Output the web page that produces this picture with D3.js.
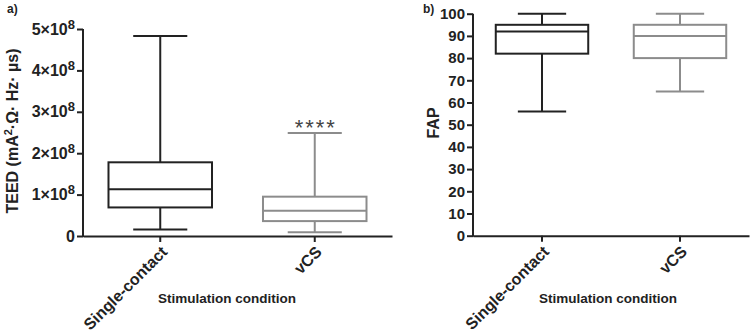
<!DOCTYPE html>
<html>
<head>
<meta charset="utf-8">
<script src="https://cdn.jsdelivr.net/npm/d3@7"></script>
<style>
  body { margin: 0; background: #fff; }
  svg { font-family: "Liberation Sans", Arial, sans-serif; font-weight: bold; }
</style>
</head>
<body>
<svg id="chart" width="750" height="336"></svg>
<script>
// box summaries
const conditions = ["Single-contact", "vCS"];
const colors = ["#222222", "#8c8c8c"];

// a) TEED, units of 1e8
const teedMin = [0.16, 0.09];
const teedQ1 = [0.69, 0.36];
const teedMed = [1.13, 0.61];
const teedQ3 = [1.78, 0.95];
const teedMax = [4.83, 2.49];
const teedTicks = [0, 1, 2, 3, 4, 5];

// b) FAP
const fapMin = [56, 65];
const fapQ1 = [82, 80];
const fapMed = [92, 90];
const fapQ3 = [95, 95];
const fapMax = [100, 100];
const fapTicks = d3.range(0, 101, 10);

const svg = d3.select("#chart");

function panel(opts) {
  const g = svg.append("g");
  const x = d3.scaleBand().domain(conditions).range(opts.xRange);
  const y = d3.scaleLinear().domain(opts.yDomain).range(opts.yRange);
  const step = x.step();
  const boxW = step * 0.67, capW = step * 0.35;

  const rows = conditions.map((c, i) => ({
    c, col: colors[i],
    min: opts.min[i], q1: opts.q1[i], med: opts.med[i], q3: opts.q3[i], max: opts.max[i]
  }));

  const b = g.selectAll("g.box").data(rows).join("g")
    .attr("transform", d => `translate(${x(d.c) + step / 2},0)`)
    .attr("stroke", d => d.col).attr("stroke-width", 2).attr("fill", "none");
  b.append("line").attr("y1", d => y(d.max)).attr("y2", d => y(d.q3));
  b.append("line").attr("y1", d => y(d.q1)).attr("y2", d => y(d.min));
  b.append("line").attr("x1", -capW / 2).attr("x2", capW / 2).attr("y1", d => y(d.max)).attr("y2", d => y(d.max));
  b.append("line").attr("x1", -capW / 2).attr("x2", capW / 2).attr("y1", d => y(d.min)).attr("y2", d => y(d.min));
  b.append("rect").attr("x", -boxW / 2).attr("width", boxW)
    .attr("y", d => y(d.q3)).attr("height", d => y(d.q1) - y(d.q3));
  b.append("line").attr("x1", -boxW / 2).attr("x2", boxW / 2).attr("y1", d => y(d.med)).attr("y2", d => y(d.med));

  // y axis
  const ya = g.append("g").attr("transform", `translate(${opts.xRange[0]},0)`)
    .call(d3.axisLeft(y).tickValues(opts.ticks).tickSize(6).tickPadding(2).tickFormat(opts.fmt || d3.format("d")));
  ya.select(".domain").attr("stroke", "#222").attr("stroke-width", 2).attr("d", `M0,${opts.yRange[0] + 1}V${opts.yRange[1]}`);
  ya.selectAll(".tick line").attr("stroke", "#222").attr("stroke-width", 2);
  ya.selectAll(".tick text").attr("fill", "#222").attr("font-size", opts.tickFs).attr("font-weight", "bold")
    .attr("font-family", "Liberation Sans, Arial, sans-serif");

  // x axis
  const xa = g.append("g").attr("transform", `translate(0,${opts.yRange[0]})`)
    .call(d3.axisBottom(x).tickSize(6).tickSizeOuter(0).tickFormat(""));
  xa.select(".domain").attr("stroke", "#222").attr("stroke-width", 2);
  xa.selectAll(".tick line").attr("stroke", "#222").attr("stroke-width", 2);
  g.selectAll("text.xl").data(conditions).join("text").attr("class", "xl")
    .attr("transform", d => `translate(${x(d) + step / 2 + 8},${opts.yRange[0] + 17}) rotate(-45)`)
    .attr("text-anchor", "end").attr("font-size", 16).attr("fill", "#222").text(d => d);

  g.append("text").attr("x", opts.xTitleX).attr("y", 303).attr("text-anchor", "middle")
    .attr("font-size", 13.5).attr("fill", "#222").text("Stimulation condition");
  return { g, x, y, ya, step };
}

const pa = panel({
  xRange: [83, 392], yDomain: [0, 5], yRange: [236, 29],
  min: teedMin, q1: teedQ1, med: teedMed, q3: teedQ3, max: teedMax,
  ticks: teedTicks, tickFs: 16, xTitleX: 227, fmt: d => d === 0 ? "0" : d + "\u00d710"
});
// superscript exponent on the TEED ticks
pa.ya.selectAll(".tick text").filter(d => d !== 0)
  .append("tspan").attr("dy", -6).attr("font-size", 13).text("8");

// significance stars above vCS
pa.g.append("text").attr("x", pa.x("vCS") + pa.step / 2 + 1).attr("y", pa.y(teedMax[1]) + 2)
  .attr("text-anchor", "middle").attr("font-size", 22).attr("font-weight", "normal")
  .attr("fill", "#444").attr("letter-spacing", 2).text("****");

pa.g.append("text").attr("transform", "translate(18,131) rotate(-90)").attr("text-anchor", "middle")
  .attr("font-size", 16).attr("fill", "#222")
  .html('TEED (mA<tspan dy="-6" font-size="11">2</tspan><tspan dy="6">·Ω· Hz· µs)</tspan>');
pa.g.append("text").attr("x", 7).attr("y", 13).attr("font-size", 12).attr("fill", "#222").text("a)");

const pb = panel({
  xRange: [473, 749], yDomain: [0, 100], yRange: [235.7, 13.7],
  min: fapMin, q1: fapQ1, med: fapMed, q3: fapQ3, max: fapMax,
  ticks: fapTicks, tickFs: 15, xTitleX: 608
});
pb.g.append("text").attr("transform", "translate(439,123) rotate(-90)").attr("text-anchor", "middle")
  .attr("font-size", 16).attr("fill", "#222").text("FAP");
pb.g.append("text").attr("x", 423).attr("y", 13).attr("font-size", 12).attr("fill", "#222").text("b)");
</script>
</body>
</html>
